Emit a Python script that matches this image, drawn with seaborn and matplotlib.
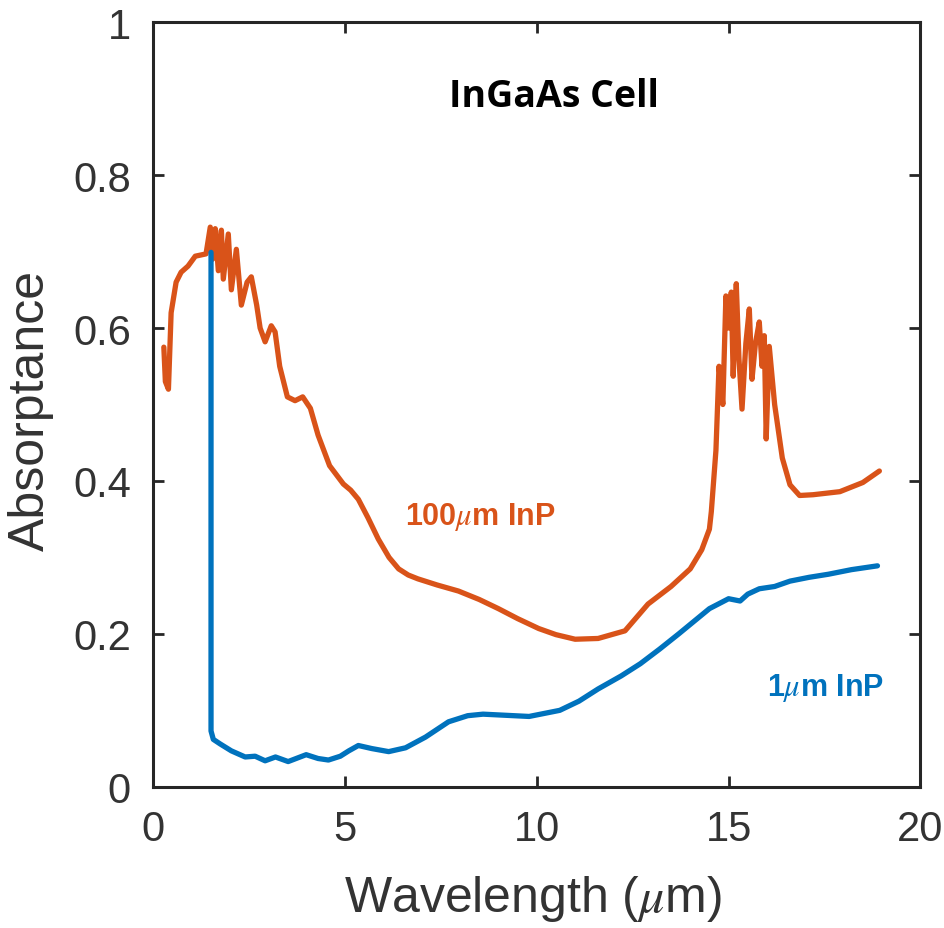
import pandas as pd
import matplotlib
matplotlib.use("Agg")
import matplotlib.pyplot as plt
import seaborn as sns

# ── Data ──────────────────────────────────────────────────────────────────
thick_wl = [0.28, 0.32, 0.40, 0.47, 0.60, 0.73, 0.91, 1.10, 1.38, 1.49, 1.55, 1.62,
            1.70, 1.78, 1.83, 1.96, 2.04, 2.17, 2.30, 2.45, 2.56, 2.70, 2.79, 2.92,
            3.08, 3.18, 3.30, 3.50, 3.70, 3.90, 4.10, 4.30, 4.60, 4.96, 5.15, 5.35,
            5.60, 5.87, 6.15, 6.40, 6.65, 6.90, 7.40, 7.96, 8.50, 9.00, 9.50, 10.05,
            10.50, 11.00, 11.60, 12.30, 12.90, 13.50, 14.00, 14.30, 14.50,
            14.55, 14.67, 14.75, 14.85, 14.93, 15.00, 15.07, 15.12, 15.20, 15.27,
            15.35, 15.45, 15.54, 15.61, 15.70, 15.80, 15.87, 15.93, 15.98, 16.06,
            16.20, 16.40, 16.60, 16.85, 17.20, 17.90, 18.50, 18.93]
thick_abs = [0.575, 0.530, 0.520, 0.620, 0.660, 0.673, 0.681, 0.694, 0.697, 0.732, 0.690, 0.730,
             0.675, 0.728, 0.664, 0.723, 0.650, 0.703, 0.630, 0.660, 0.667, 0.630, 0.600, 0.582,
             0.603, 0.595, 0.550, 0.510, 0.505, 0.510, 0.495, 0.460, 0.420, 0.396, 0.388, 0.376,
             0.352, 0.324, 0.300, 0.285, 0.277, 0.272, 0.264, 0.256, 0.245, 0.233, 0.220, 0.207,
             0.199, 0.193, 0.194, 0.204, 0.239, 0.262, 0.285, 0.310, 0.337,
             0.360, 0.440, 0.550, 0.500, 0.642, 0.600, 0.647, 0.537, 0.658, 0.560,
             0.494, 0.580, 0.625, 0.533, 0.580, 0.608, 0.550, 0.590, 0.455, 0.576,
             0.500, 0.430, 0.395, 0.381, 0.382, 0.386, 0.398, 0.413]

thin_wl = [1.51, 1.51, 1.57, 1.75, 2.04, 2.40, 2.66, 2.92, 3.19, 3.52, 3.99, 4.30, 4.57,
           4.88, 5.10, 5.35, 5.70, 6.14, 6.58, 7.10, 7.70, 8.20, 8.60, 9.00, 9.80, 10.60,
           11.10, 11.60, 12.20, 12.70, 13.20, 13.70, 14.50, 15.00, 15.30, 15.50, 15.80,
           16.20, 16.60, 17.10, 17.60, 18.20, 18.88]
thin_abs = [0.699, 0.073, 0.062, 0.056, 0.047, 0.039, 0.040, 0.034, 0.039, 0.033, 0.042, 0.037, 0.035,
            0.040, 0.047, 0.054, 0.050, 0.046, 0.051, 0.065, 0.085, 0.093, 0.095, 0.094, 0.092, 0.100,
            0.112, 0.128, 0.145, 0.161, 0.180, 0.200, 0.233, 0.246, 0.243, 0.252, 0.259,
            0.262, 0.269, 0.274, 0.278, 0.284, 0.289]

x_ticks = [0, 5, 10, 15, 20]
y_ticks = [0, 0.2, 0.4, 0.6, 0.8, 1]
y_tick_labels = ["0", "0.2", "0.4", "0.6", "0.8", "1"]

ORANGE = "#D95319"
BLUE = "#0072BD"
DARK = "#262626"
TEXT = "#333333"

sns.set_theme(style="white")
plt.rcParams["font.family"] = ["Liberation Sans", "DejaVu Sans"]
plt.rcParams["mathtext.fontset"] = "stix"

df_thick = pd.DataFrame({"wl": thick_wl, "a": thick_abs})
df_thin = pd.DataFrame({"wl": thin_wl, "a": thin_abs})

fig = plt.figure(figsize=(9.45, 9.29), dpi=100)
ax = fig.add_axes([0.162, 0.152, 0.812, 0.823])

sns.lineplot(data=df_thick, x="wl", y="a", sort=False, estimator=None,
             color=ORANGE, linewidth=3.8, ax=ax)
sns.lineplot(data=df_thin, x="wl", y="a", sort=False, estimator=None,
             color=BLUE, linewidth=3.8, ax=ax)

ax.set_xlim(0, 20)
ax.set_ylim(0, 1)
ax.set_xticks(x_ticks)
ax.set_yticks(y_ticks)
ax.set_yticklabels(y_tick_labels)
ax.tick_params(direction="in", length=8, width=2, color=DARK,
               labelsize=30, labelcolor=TEXT, top=True, right=True,
               bottom=True, left=True)
ax.tick_params(axis="x", pad=16)
ax.tick_params(axis="y", pad=16)
for sp in ax.spines.values():
    sp.set_visible(True)
    sp.set_color(DARK)
    sp.set_linewidth(2.2)

ax.set_xlabel(r"Wavelength ($\mu$m)", fontsize=36, color=TEXT)
ax.set_ylabel("Absorptance", fontsize=36, color=TEXT)
ax.xaxis.label.set_va("center")
ax.yaxis.label.set_va("center")
ax.xaxis.set_label_coords(0.495, -0.146)
ax.yaxis.set_label_coords(-0.159, 0.493)

ax.text(0.522, 0.903, "InGaAs Cell", transform=ax.transAxes, ha="center", va="center",
        fontsize=27, fontweight="bold", color="black", family=["Open Sans", "DejaVu Sans"])
ax.text(0.426, 0.354, r"100$\mu$m InP", transform=ax.transAxes, ha="center", va="center",
        fontsize=22, fontweight="bold", color=ORANGE)
ax.text(0.876, 0.131, r"1$\mu$m InP", transform=ax.transAxes, ha="center", va="center",
        fontsize=22, fontweight="bold", color=BLUE)

fig.savefig("out.png", dpi=100)
